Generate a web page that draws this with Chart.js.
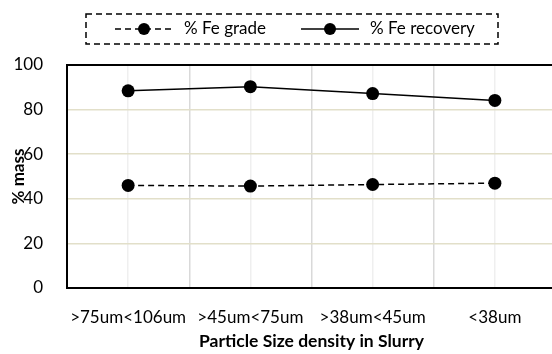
<!DOCTYPE html>
<html>
<head>
<meta charset="utf-8">
<script src="https://cdn.jsdelivr.net/npm/chart.js@4"></script>
<style>
  html, body { margin: 0; padding: 0; background: #fff; overflow: hidden; }
  #wrap { width: 570px; height: 354px; }
</style>
</head>
<body>
<div id="wrap"><canvas id="feChart"></canvas></div>
<script>
// particle size classes and measured values (% mass)
var sizes = [">75um<106um", ">45um<75um", ">38um<45um", "<38um"];
var feGrade = [46.0, 45.7, 46.4, 47.0];
var feRecovery = [88.4, 90.3, 87.2, 84.1];
var yTicks = [0, 20, 40, 60, 80, 100];
var xTitle = "Particle Size density in Slurry";
var yTitle = "% mass";

var fontFam = "Lato, 'Open Sans', sans-serif";

// draws the boxed legend and the y title (sits over the tick labels like the original)
var extras = {
  id: 'extras',
  afterDraw: function(chart) {
    var ctx = chart.ctx;
    ctx.save();
    // dashed legend frame
    ctx.strokeStyle = '#000';
    ctx.lineWidth = 1.5;
    ctx.setLineDash([6, 4]);
    ctx.strokeRect(86, 14, 412, 30);

    var items = chart.data.datasets;
    var x = 115, y = 29;
    ctx.font = "17px " + fontFam;
    ctx.textBaseline = 'middle';
    ctx.textAlign = 'left';
    for (var i = 0; i < items.length; i++) {
      var ds = items[i];
      ctx.setLineDash(ds.borderDash || []);
      ctx.lineWidth = ds.borderWidth;
      ctx.beginPath();
      ctx.moveTo(x, y);
      ctx.lineTo(x + 58, y);
      ctx.stroke();
      ctx.setLineDash([]);
      ctx.beginPath();
      ctx.arc(x + 29, y, 6, 0, Math.PI * 2);
      ctx.fillStyle = '#000';
      ctx.fill();
      ctx.fillText(ds.label, x + 69, y);
      x = x + 69 + ctx.measureText(ds.label).width + 35;
    }

    // y axis title
    var area = chart.chartArea;
    ctx.translate(19, (area.top + area.bottom) / 2);
    ctx.rotate(-Math.PI / 2);
    ctx.font = "bold 17px " + fontFam;
    ctx.textAlign = 'center';
    ctx.fillText(yTitle, 0, 0);
    ctx.restore();
  }
};

var ctx = document.getElementById("feChart").getContext('2d');
var myChart = new Chart(ctx, {
  type: 'line',
  data: {
    labels: sizes,
    datasets: [{
      label: '% Fe grade',
      data: feGrade,
      borderColor: '#000',
      backgroundColor: '#000',
      borderWidth: 1.5,
      borderDash: [6, 4],
      pointRadius: 6.5,
      pointHoverRadius: 6.5,
      pointBackgroundColor: '#000',
      pointBorderWidth: 0,
      tension: 0
    },
    {
      label: '% Fe recovery',
      data: feRecovery,
      borderColor: '#000',
      backgroundColor: '#000',
      borderWidth: 1.5,
      pointRadius: 6.5,
      pointHoverRadius: 6.5,
      pointBackgroundColor: '#000',
      pointBorderWidth: 0,
      tension: 0
    }]
  },
  options: {
    responsive: true,
    maintainAspectRatio: false,
    animation: false,
    layout: { padding: { top: 65, right: 14, left: 0, bottom: 4 } },
    plugins: {
      legend: { display: false },
      tooltip: { enabled: false }
    },
    scales: {
      x: {
        type: 'category',
        offset: true,
        afterFit: function(scale) { scale.height = 62; },
        grid: { offset: false, color: '#efefef', lineWidth: 1.5, drawTicks: false },
        border: { color: '#000', width: 2 },
        ticks: { color: '#000', font: { family: fontFam, size: 17 }, padding: 19, maxRotation: 0 },
        title: { display: true, text: xTitle, color: '#000', font: { family: fontFam, size: 17.5, weight: 'bold' }, padding: { top: 4, bottom: -2 } }
      },
      xTop: {
        type: 'category',
        position: 'top',
        offset: true,
        grid: { offset: true, color: '#d9d9d9', lineWidth: 1.5, drawTicks: false },
        border: { color: '#000', width: 2 },
        ticks: { display: false }
      },
      y: {
        min: 0,
        max: 100,
        afterFit: function(scale) { scale.width = 67; },
        afterBuildTicks: function(scale) { scale.ticks = yTicks.map(function(v) { return { value: v }; }); },
        grid: {
          color: function(c) { return (c.tick && (c.tick.value === 0 || c.tick.value === 100)) ? 'rgba(0,0,0,0)' : '#e2dfc9'; },
          lineWidth: 1.5,
          drawTicks: false
        },
        border: { color: '#000', width: 2 },
        ticks: { color: '#000', font: { family: fontFam, size: 17 }, padding: 24 }
      }
    }
  },
  plugins: [extras]
});
</script>
</body>
</html>
